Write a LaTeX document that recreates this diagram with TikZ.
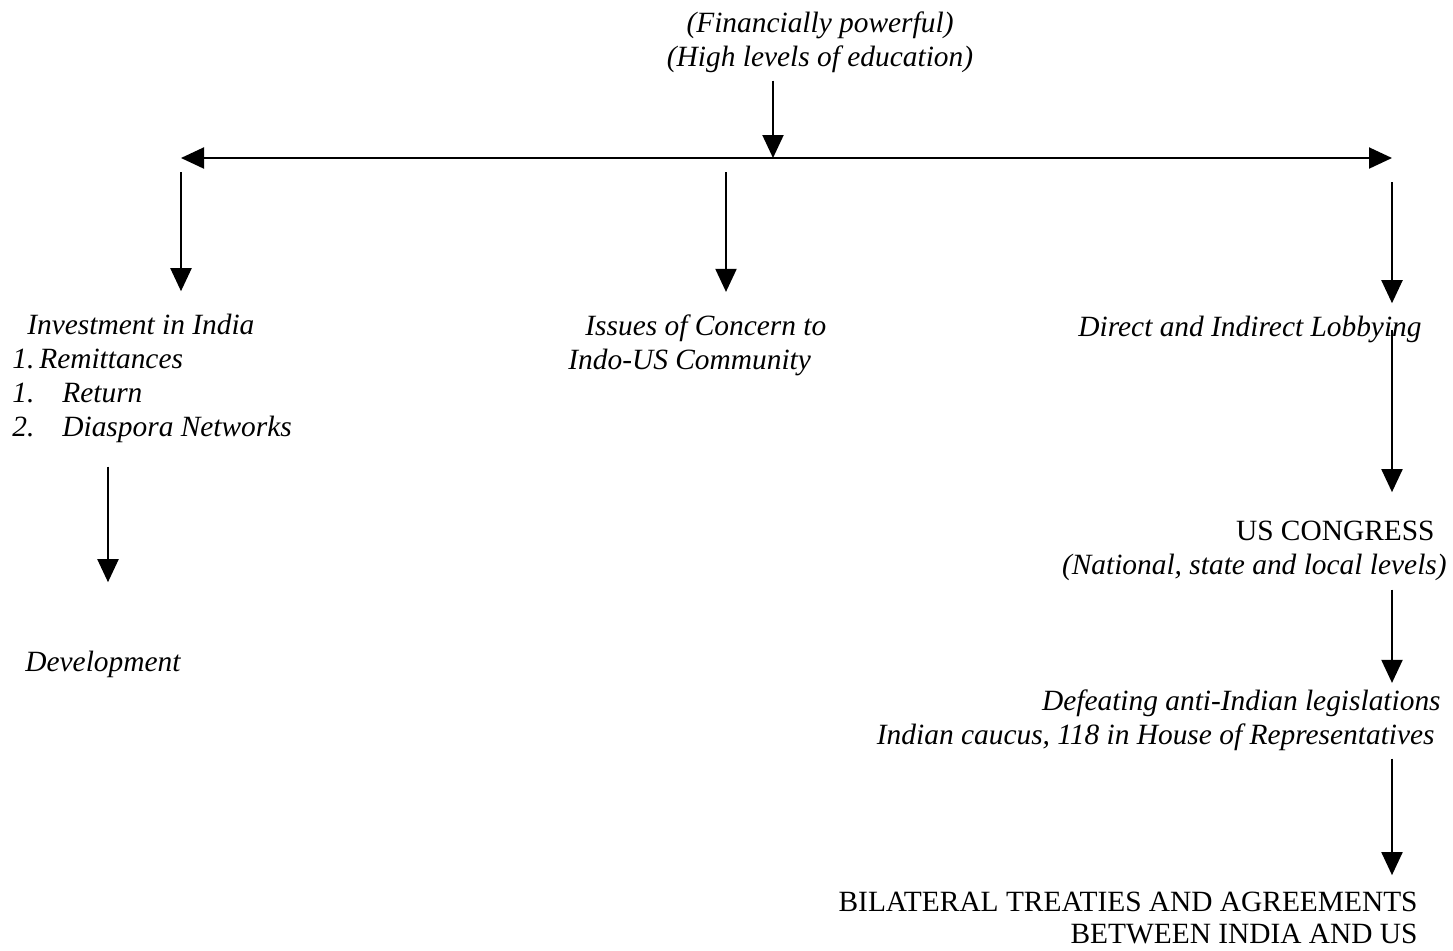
\documentclass[tikz,border=0pt]{standalone}
\usepackage{fontspec}
\setmainfont{Liberation Serif}
\usetikzlibrary{positioning,arrows.meta}

\begin{document}
\begin{tikzpicture}[x=0.5pt,y=-0.5pt,
            textnode/.style={font=\fontsize{14.7}{17}\selectfont\itshape, inner sep=0pt},
            capsnode/.style={font=\fontsize{14.7}{16}\selectfont, inner sep=0pt},
            flow/.style={-{Triangle[width=10.5pt,length=11.5pt]}, line width=1pt},
            spread/.style={{Triangle[width=10.5pt,length=11.5pt]}-{Triangle[width=10.5pt,length=11.5pt]}, line width=1pt},
            ]
            \fill[white] (0,0) rectangle (1453,950);
            \useasboundingbox (0,0) rectangle (1453,950);

            %Nodes
            \node[textnode, align=center, anchor=base] (wealth) at (820,66) {(Financially powerful)\\(High levels of education)};
            \coordinate (hub)   at (773,158);
            \coordinate (west)  at (181,158);
            \coordinate (mid)   at (726,158);
            \coordinate (east)  at (1392,158);

            \node[textnode, align=left, anchor=base west] (invest) at (12,436)
                {\hspace*{7.5pt}Investment in India\\1.\,Remittances\\\makebox[25pt][l]{1.}Return\\\makebox[25pt][l]{2.}Diaspora Networks};
            \node[textnode, anchor=base west] (develop) at (25,671) {Development};
            \node[textnode, align=left, anchor=base west] (issues) at (568,369)
                {\hspace*{8.5pt}Issues of Concern to\\Indo-US Community};
            \node[textnode, anchor=base west] (lobby) at (1078,336) {Direct and Indirect Lobbying};
            \node[textnode, align=right, anchor=base east] (congress) at (1447,574)
                {\normalfont US CONGRESS\hspace*{6pt}\\(National, state and local levels)};
            \node[textnode, align=right, anchor=base east] (defeat) at (1441,744)
                {Defeating anti-Indian legislations\\Indian caucus, 118 in House of Representatives\hspace*{3pt}};
            \node[capsnode, align=right, anchor=base east] (treaty) at (1418,943)
                {BILATERAL TREATIES AND AGREEMENTS\\BETWEEN INDIA AND US};

            %Lines
            \draw[flow] ([yshift=-4pt]wealth.south -| hub) -- (hub);
            \draw[spread] (west) -- (east);
            \draw[flow] ([yshift=-7pt]west) -- ([yshift=11pt]invest.north -| west);
            \draw[flow] ([yshift=-7pt]mid) -- ([yshift=11pt]issues.north -| mid);
            \draw[flow] ([yshift=-12pt]east) -- ([yshift=6pt]lobby.north -| east);
            \draw[flow] ([yshift=-12pt]invest.south -| 108,0) -- ([yshift=34pt]develop.north -| 108,0);
            \draw[flow] ([yshift=3pt]lobby.base -| east) -- ([yshift=14pt]congress.north -| east);
            \draw[flow] ([yshift=-4.5pt]congress.south -| east) -- ([yshift=3pt]defeat.north -| east);
            \draw[flow] ([yshift=-4pt]defeat.south -| east) -- ([yshift=8pt]treaty.north -| east);

        \end{tikzpicture}
\end{document}
